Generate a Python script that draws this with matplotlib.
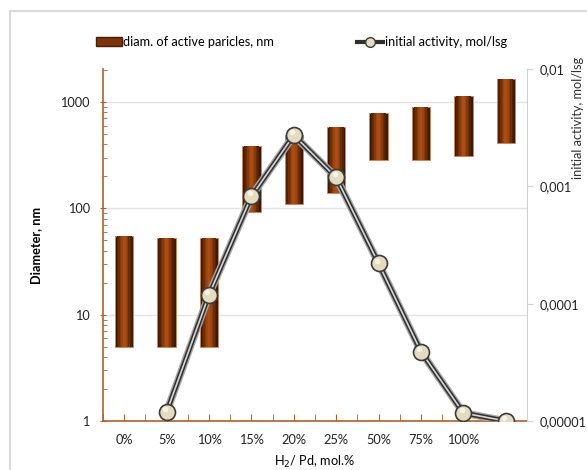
import numpy as np
import matplotlib
matplotlib.use("Agg")
import matplotlib.pyplot as plt
import matplotlib.patches as patches
from matplotlib.lines import Line2D
from matplotlib.ticker import FixedLocator, LogLocator, NullFormatter

plt.rcParams['font.family'] = ['Lato', 'DejaVu Sans']
plt.rcParams['font.size'] = 9.2

# categories (last one has no label)
categories = ['0%', '5%', '10%', '15%', '20%', '25%', '50%', '75%', '100%', '']

# particle diameter ranges, nm (floating bars)
diam_low = [5, 5, 5, 92, 109, 138, 283, 283, 308, 408]
diam_high = [55, 53, 53, 382, 490, 577, 780, 888, 1127, 1660]

# initial activity, mol/lsg (no value for 0%)
activity = [np.nan, 1.19e-5, 1.19e-4, 8.2e-4, 2.73e-3, 1.19e-3, 2.2e-4, 3.9e-5, 1.17e-5, 1.0e-5]

x = np.arange(len(categories))
low = np.array(diam_low)
high = np.array(diam_high)

fig = plt.figure(figsize=(5.87, 4.70), dpi=100)
ax = fig.add_axes([103/587, 1-421/470, (527-103)/587, (421-69)/470])
ax2 = ax.twinx()

# outer light frame
fig.patches.append(patches.Rectangle((10/587, -0.1), 1.2, 1.1-11/470, transform=fig.transFigure,
                                     fill=False, edgecolor='#d9d9d9', linewidth=1.5))

ax.set_yscale('log')
ax.set_ylim(1, 2040)
ax.set_xlim(-0.5, len(categories) - 0.5)

# bars with a simple horizontal gradient
bar_w = 0.43
shades = ['#3f1804', '#552205', '#6d2d08', '#86390b', '#9c450e', '#ab4d10']
fracs = [1.0, 0.82, 0.64, 0.46, 0.3, 0.15]
for f, c in zip(fracs, shades):
    ax.bar(x, high - low, bottom=low, width=bar_w*f, color=c, zorder=2,
           edgecolor='#c98a5e' if f == 1.0 else 'none', linewidth=0.6 if f == 1.0 else 0)

ax.yaxis.grid(True, which='major', color='#e3e3e3', linewidth=1, zorder=0)
ax.set_axisbelow(True)

spine_col = '#b0602a'
for s in ['top', 'right']:
    ax.spines[s].set_visible(False)
ax.spines['left'].set_color(spine_col)
ax.spines['bottom'].set_color(spine_col)
ax.spines['left'].set_linewidth(1.2)
ax.spines['bottom'].set_linewidth(1.2)

ax.set_yticks([1, 10, 100, 1000])
ax.set_yticklabels(['1', '10', '100', '1000'])
ax.yaxis.set_minor_locator(LogLocator(base=10, subs=np.arange(2, 10)))
ax.yaxis.set_minor_formatter(NullFormatter())
ax.tick_params(axis='y', which='major', direction='inout', length=5, color=spine_col, pad=7, labelcolor='#222222')
ax.tick_params(axis='y', which='minor', direction='in', length=3, color=spine_col)

ax.set_xticks(x)
ax.set_xticklabels(categories)
ax.xaxis.set_minor_locator(FixedLocator(np.arange(-0.5, len(categories), 1.0)))
ax.tick_params(axis='x', which='both', direction='in', length=5, color=spine_col, pad=9, labelcolor='#222222')

ax.set_ylabel('Diameter, nm', fontweight='bold', labelpad=13)
ax.set_xlabel('H$_2$/ Pd, mol.%', labelpad=6)

# activity line on secondary axis
ax2.set_yscale('log')
ax2.set_ylim(1e-5, 1e-2)
ax2.plot(x, activity, color='#a8a8a8', linewidth=5.5, zorder=3, solid_capstyle='round')
ax2.plot(x, activity, color='#303030', linewidth=3.5, zorder=3, solid_capstyle='round')
ax2.plot(x, activity, color='#d6d6d6', linewidth=1.2, zorder=3, solid_capstyle='round')
ax2.plot(x, activity, linestyle='none', marker='o', markersize=11.5, markerfacecolor='#e4dcbf',
         markeredgecolor='#3a3a3a', markeredgewidth=1.2, zorder=4)
ax2.plot(x - 0.04, np.array(activity) * 1.06, linestyle='none', marker='o', markersize=4,
         markerfacecolor='#f6f3e6', markeredgecolor='none', zorder=5)

for s in ['top', 'left', 'bottom']:
    ax2.spines[s].set_visible(False)
ax2.spines['right'].set_color('#d0d0d0')
ax2.set_yticks([1e-5, 1e-4, 1e-3, 1e-2])
ax2.set_yticklabels(['0,00001', '0,0001', '0,001', '0,01'])
ax2.yaxis.set_minor_locator(FixedLocator([]))
ax2.tick_params(axis='y', which='major', direction='out', length=4, color='#d0d0d0', pad=5, labelcolor='#222222')

fig.text(578/587, 1-118/470, 'initial activity, mol/lsg', rotation=90, ha='center', va='center', color='#333333')

# legend
h1 = patches.Patch(facecolor='#7a330b', edgecolor='#4a1c05')
h2 = Line2D([0], [0], color='#303030', linewidth=3, marker='o', markersize=7,
            markerfacecolor='#e4dcbf', markeredgecolor='#3a3a3a')
fig.legend([h1, h2], ['diam. of active paricles, nm', 'initial activity, mol/lsg'],
           loc='center left', bbox_to_anchor=(96/587, 1-42/470), ncol=2, frameon=False,
           columnspacing=6.5, handlelength=2.0, handletextpad=0.15, borderaxespad=0, borderpad=0)

fig.savefig('out.png', dpi=100)
